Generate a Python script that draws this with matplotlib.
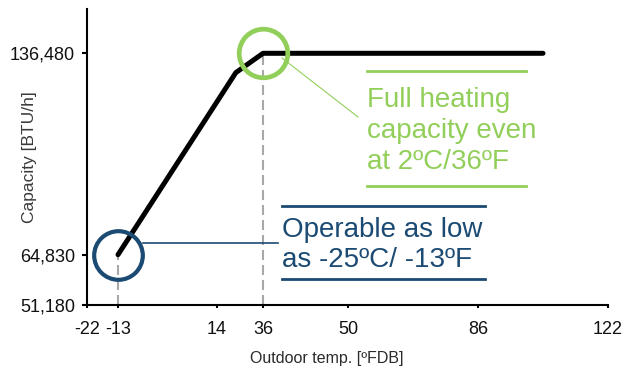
import numpy as np
import matplotlib.pyplot as plt
from matplotlib.lines import Line2D

plt.rcParams['font.family'] = ['Liberation Sans', 'DejaVu Sans']

# heating capacity curve
temp_f = [-13, 23, 36, 104]
capacity = [64830, 129600, 136480, 136480]

# highlighted points
low_temp, low_cap = -13, 64830
full_temp, full_cap = 36, 136480

x_ticks = [-22, -13, 14, 36, 50, 86, 122]
x_labels = ['-22', '-13', '14', '36', '50', '86', '122']
y_ticks = [51180, 64830, 136480]
y_labels = ['51,180', '64,830', '136,480']

green_text = 'Full heating\ncapacity even\nat 2ºC/36ºF'
blue_text = 'Operable as low\nas -25ºC/ -13ºF'

green = '#92CF5A'
blue = '#1B4A72'
grey = '#A8A8A8'

W, H = 623, 370

# the original axes are not evenly spaced, so map values to pixels piecewise
x_anchor = [-22, -13, 14, 36, 50, 86, 122]
x_px = [0, 31, 130, 176, 261, 391, 521]
y_anchor = [51180, 64830, 136480, 152100]
y_px = [0, 50, 251.4, 295.4]


def fx(px):
    return px / W


def fy(py):
    return 1 - py / H


fig = plt.figure(figsize=(W / 100, H / 100), dpi=100)
ax = fig.add_axes([fx(87), fy(304.7), 521 / W, 295.4 / H])

ax.set_xscale('function', functions=(lambda v: np.interp(v, x_anchor, x_px),
                                     lambda p: np.interp(p, x_px, x_anchor)))
ax.set_yscale('function', functions=(lambda v: np.interp(v, y_anchor, y_px),
                                     lambda p: np.interp(p, y_px, y_anchor)))
ax.set_xlim(-22, 122)
ax.set_ylim(51180, 152100)

# dashed drop lines
ax.plot([low_temp, low_temp], [51180, low_cap], color=grey, lw=1.5,
        dashes=(4.8, 2.4), zorder=1, clip_on=False)
ax.plot([full_temp, full_temp], [51180, full_cap], color=grey, lw=1.5,
        dashes=(4.8, 2.4), zorder=1, clip_on=False)

ax.plot(temp_f, capacity, color='black', lw=3.6, solid_capstyle='round',
        solid_joinstyle='round', zorder=3)

ax.plot([low_temp], [low_cap], marker='o', ms=35, mfc='none', mec=blue,
        mew=3.0, zorder=4, clip_on=False)
ax.plot([full_temp], [full_cap], marker='o', ms=35, mfc='none', mec=green,
        mew=3.4, zorder=4, clip_on=False)

ax.set_xticks(x_ticks)
ax.set_xticklabels(x_labels)
ax.set_yticks(y_ticks)
ax.set_yticklabels(y_labels)
ax.minorticks_off()

for s in ['top', 'right']:
    ax.spines[s].set_visible(False)
for s in ['left', 'bottom']:
    ax.spines[s].set_linewidth(1.5)

ax.tick_params(axis='x', direction='out', length=2.5, width=1.5, pad=9,
               labelsize=13, labelcolor='#111111')
ax.tick_params(axis='y', direction='out', length=3.6, width=1.5, pad=5,
               labelsize=13, labelcolor='#111111')

fig.text(fx(30), fy(157), 'Capacity [BTU/h]', rotation=90, ha='center',
         va='center', fontsize=12.5, color='#3a3a3a')
fig.text(fx(327), fy(359), 'Outdoor temp. [ºFDB]', ha='center', va='center',
         fontsize=11.5, color='#2a2a2a')

# green callout (baseline of the last line)
fig.add_artist(Line2D([fx(367), fx(526)], [fy(70.5), fy(70.5)], color=green, lw=2))
fig.add_artist(Line2D([fx(367), fx(526)], [fy(186), fy(186)], color=green, lw=2))
fig.add_artist(Line2D([fx(282), fx(358)], [fy(58), fy(117)], color=green, lw=0.8))
fig.text(fx(367), fy(169), green_text, ha='left', va='baseline', fontsize=20,
         color=green, linespacing=1.26)

# blue callout
fig.add_artist(Line2D([fx(282), fx(485)], [fy(205.5), fy(205.5)], color=blue, lw=2))
fig.add_artist(Line2D([fx(282), fx(485)], [fy(279), fy(279)], color=blue, lw=2))
fig.add_artist(Line2D([fx(143), fx(278)], [fy(243), fy(243)], color=blue, lw=1.2))
fig.text(fx(282), fy(267), blue_text, ha='left', va='baseline', fontsize=20,
         color=blue, linespacing=1.18)

fig.savefig('out.png', dpi=100)
